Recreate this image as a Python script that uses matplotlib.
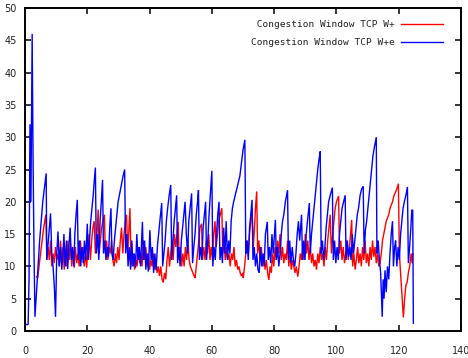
import matplotlib
matplotlib.use("Agg")
import matplotlib.pyplot as plt

# ---------------- data ----------------
blue_t = [
    0, 0.5, 1.0, 1.3, 1.6, 1.9, 2.3, 2.6, 2.9, 3.2,
    3.7, 4.2, 4.7, 5.2, 5.7, 6.2, 6.8, 7.0, 7.5, 8.2,
    8.6, 9.0, 9.4, 9.8, 10.2, 10.6, 11.0, 11.4, 11.8, 12.2,
    12.5, 12.9, 13.3, 13.7, 14.1, 14.5, 14.9, 15.3, 15.7, 16.0,
    16.4, 16.8, 17.1, 17.5, 17.9, 18.3, 18.7, 19.1, 19.5, 20.0,
    20.3, 20.7, 21.1, 21.5, 21.9, 22.2, 22.6, 22.9, 23.3, 23.7,
    24.1, 24.5, 24.9, 25.2, 25.6, 26.0, 26.4, 26.8, 27.2, 27.6,
    27.9, 28.3, 28.7, 29.1, 29.5, 29.9, 30.3, 30.7, 31.1, 31.5,
    32.0, 32.3, 32.7, 33.1, 33.5, 33.9, 34.3, 34.7, 35.1, 35.5,
    35.9, 36.3, 36.7, 37.1, 37.7, 38.0, 38.4, 38.8, 39.2, 39.6,
    40.1, 40.5, 40.9, 41.3, 41.7, 42.1, 42.5, 42.9, 43.3, 43.9,
    44.2, 44.6, 45.0, 45.4, 45.8, 46.3, 46.8, 47.1, 47.5, 47.9,
    48.3, 48.7, 49.0, 49.4, 49.8, 50.2, 50.6, 51.0, 51.4, 51.8,
    52.2, 52.6, 53.0, 53.5, 53.8, 54.2, 54.6, 55.0, 55.4, 55.7,
    56.0, 56.4, 56.8, 57.2, 57.6, 58.0, 58.3, 58.7, 59.1, 59.5,
    60.0, 60.3, 60.7, 61.1, 61.5, 61.9, 62.3, 62.6, 63.0, 63.4,
    63.8, 64.2, 64.6, 65.0, 65.4, 65.8, 66.2, 66.6, 67.0, 67.5,
    68.0, 68.5, 69.0, 69.5, 70.0, 70.6, 70.9, 71.3, 71.7, 72.1,
    72.5, 72.9, 73.2, 73.6, 74.0, 74.4, 74.8, 75.2, 75.6, 76.0,
    76.4, 76.8, 77.2, 77.8, 78.1, 78.5, 78.9, 79.3, 79.7, 80.4,
    80.7, 81.1, 81.5, 81.9, 82.3, 82.7, 83.1, 83.6, 84.0, 84.3,
    84.6, 85.0, 85.4, 85.8, 86.2, 86.6, 87.0, 87.4, 87.8, 88.2,
    88.8, 89.1, 89.5, 89.9, 90.3, 90.7, 91.3, 91.6, 92.0, 92.4,
    92.8, 93.2, 93.6, 94.0, 94.4, 94.8, 95.1, 95.5, 95.9, 96.3,
    96.7, 97.1, 97.5, 98.0, 98.7, 99.0, 99.4, 99.8, 100.2, 100.6,
    101.0, 101.4, 101.8, 102.3, 102.8, 103.1, 103.5, 103.9, 104.3, 104.7,
    105.1, 105.5, 105.9, 106.3, 106.7, 107.1, 107.6, 108.1, 108.6, 108.9,
    109.3, 109.7, 110.1, 110.5, 110.9, 111.3, 111.7, 112.2, 112.8, 113.0,
    113.4, 113.8, 114.2, 114.7, 115.0, 115.3, 115.6, 116.0, 116.4, 116.8,
    117.2, 117.6, 118.0, 118.3, 118.7, 119.0, 119.4, 119.8, 120.2, 120.6,
    121.0, 121.4, 121.8, 122.3, 122.8, 123.1, 123.5, 123.9, 124.2, 124.5,
    124.7,
]
blue_cwnd = [
    1, 1, 1, 8, 32, 20, 46, 26, 12, 2.2,
    6, 10, 14, 17, 20, 22, 24.4, 11, 14, 18.2,
    12, 10, 7, 2.2, 12, 15.4, 10, 13, 9.5, 12,
    15, 10, 14, 9.6, 13, 16, 11, 13, 10, 15,
    18, 20.3, 11, 14, 10, 13, 10.5, 14, 11, 16.6,
    11, 14, 17, 19, 21, 23, 25.3, 12, 15, 11,
    17, 20, 23.4, 12, 14, 11, 13, 11.5, 16, 19,
    12, 11, 14, 16, 18, 20, 21, 22, 23, 24,
    25, 12, 15, 10, 13, 9.5, 14, 10, 12, 9.8,
    15, 11, 13, 10, 16.9, 11, 14, 9.5, 12, 9.2,
    15.6, 11, 13, 9, 12, 9.4, 13, 15, 17, 19.8,
    10, 12, 14, 17, 19, 21, 22.6, 11, 14, 17,
    19, 21, 10.5, 13, 10, 14, 16, 18, 20, 15,
    12, 17, 19, 21.3, 10.5, 13, 15, 18, 20, 21.8,
    11, 13, 11, 16, 18, 20, 11, 14, 18, 21,
    24.8, 10, 13, 11, 15, 18, 20, 11, 13, 10.5,
    16, 12, 17, 11, 14, 12, 17, 19, 20, 21,
    22, 23, 24, 26, 28, 29.6, 12, 14, 11, 16,
    18, 20.3, 11, 13, 10, 12, 9.5, 9, 13, 10,
    12, 10, 15, 16.9, 11, 13, 10.5, 15, 12, 17.2,
    11, 13, 10, 12, 15, 17, 18, 20, 21, 21.8,
    11, 14, 10.5, 13, 11, 10, 12, 15, 17, 14,
    18, 11, 14, 11, 15, 17, 19.8, 12, 15, 17,
    19, 21, 23, 25, 26.5, 27.8, 12, 14, 11, 13,
    16, 18, 20, 21, 22.2, 11, 14, 10.5, 13, 11,
    15, 17, 19, 20, 21, 11, 14, 11.5, 13, 11,
    15, 12, 14, 16, 18, 19, 21, 22, 22.4, 12,
    15.6, 17, 19, 21, 23, 25, 27, 28.5, 30, 12,
    14, 11, 9, 2.2, 8, 5, 9.4, 6, 10, 8,
    12, 15, 17, 10, 13, 14, 10, 13, 11, 15,
    17, 19, 20, 21, 22.3, 10.5, 13, 16, 18.7, 18.7,
    1.2,
]

red_t = [
    3.7, 4.1, 4.5, 5.0, 5.5, 6.0, 6.7, 7.0, 7.4, 7.8,
    8.2, 8.6, 9.0, 9.4, 9.8, 10.2, 10.6, 11.0, 11.4, 11.8,
    12.2, 12.6, 13.0, 13.4, 13.8, 14.2, 14.6, 15.0, 15.4, 15.8,
    16.2, 16.6, 17.0, 17.4, 17.8, 18.2, 18.6, 19.0, 19.4, 19.8,
    20.2, 20.6, 21.0, 21.4, 21.8, 22.2, 22.6, 23.0, 23.5, 23.8,
    24.2, 24.6, 25.0, 25.5, 25.8, 26.2, 26.6, 27.0, 27.4, 27.8,
    28.2, 28.6, 29.0, 29.4, 29.8, 30.2, 30.6, 31.0, 31.4, 31.8,
    32.2, 32.6, 33.0, 33.7, 34.0, 34.4, 34.8, 35.2, 35.6, 36.0,
    36.4, 36.8, 37.2, 37.6, 38.0, 38.4, 38.8, 39.2, 39.6, 40.0,
    40.4, 40.8, 41.2, 41.6, 42.0, 42.4, 42.8, 43.2, 43.6, 44.0,
    44.4, 44.8, 45.2, 45.6, 46.0, 46.4, 46.8, 47.2, 47.6, 48.0,
    48.4, 48.8, 49.2, 49.5, 49.9, 50.3, 50.7, 51.1, 51.5, 51.9,
    52.3, 52.7, 53.1, 53.5, 53.9, 54.3, 54.6, 55.0, 55.4, 55.8,
    56.2, 56.7, 57.0, 57.4, 57.8, 58.2, 58.6, 59.0, 59.4, 59.8,
    60.2, 60.6, 61.0, 61.4, 61.8, 62.2, 62.7, 63.2, 63.5, 63.9,
    64.3, 64.7, 65.1, 65.5, 65.9, 66.3, 66.7, 67.1, 67.5, 67.9,
    68.3, 68.7, 69.1, 69.5, 69.9, 70.1, 70.5, 70.9, 71.3, 71.7,
    72.1, 72.5, 72.9, 73.3, 73.7, 74.0, 74.4, 74.7, 75.1, 75.5,
    75.9, 76.3, 76.7, 77.1, 77.5, 77.9, 78.3, 78.7, 79.1, 79.5,
    79.9, 80.3, 80.7, 81.1, 81.5, 81.9, 82.3, 82.7, 83.1, 83.5,
    83.9, 84.3, 84.7, 85.1, 85.5, 85.9, 86.3, 86.7, 87.1, 87.6,
    88.0, 88.4, 88.8, 89.2, 89.6, 90.0, 90.4, 90.8, 91.2, 91.6,
    92.0, 92.4, 92.8, 93.2, 93.6, 94.0, 94.4, 94.8, 95.2, 95.6,
    96.0, 96.4, 96.8, 97.2, 97.6, 98.0, 98.4, 98.8, 99.2, 99.6,
    100.0, 100.7, 101.0, 101.4, 101.8, 102.2, 102.6, 103.0, 103.4, 103.8,
    104.2, 104.9, 105.2, 105.6, 106.0, 106.4, 106.8, 107.2, 107.6, 108.0,
    108.4, 108.8, 109.2, 109.6, 110.0, 110.4, 110.8, 111.2, 111.6, 112.0,
    112.4, 112.8, 113.2, 113.6, 114.0, 114.4, 114.8, 115.2, 115.6, 116.0,
    116.4, 116.8, 117.2, 117.6, 118.0, 118.5, 119.0, 119.4, 119.9, 120.2,
    120.6, 121.0, 121.5, 121.9, 122.3, 122.7, 123.1, 123.5, 124.0, 124.3,
    124.5,
]
red_cwnd = [
    8.4, 8.2, 10, 12, 14, 16, 18, 11, 13, 11,
    14, 10, 12, 10.5, 13, 11, 12, 10, 14, 11,
    13, 9.5, 12, 10, 14, 11, 13.5, 10, 12, 9.8,
    13, 10.5, 12, 10, 14, 11, 13, 10, 12, 9.8,
    13, 15, 11, 14, 16, 17, 12, 14, 18.8, 12,
    14, 16, 17, 18, 12, 14, 11, 13, 12, 14,
    11, 10, 12, 10.5, 13, 11, 14, 16, 12, 15,
    17, 18, 12, 19, 12, 10, 12, 9.5, 11, 10,
    13, 10.5, 12, 10, 14, 11, 13, 10, 12, 9.5,
    11, 10, 12, 9.5, 11, 9, 10, 8.5, 10, 8,
    7.5, 9, 8, 11, 13, 10, 12, 14, 11, 15,
    13, 15, 16.9, 11, 13, 10, 12, 10, 13, 11,
    14, 11, 10, 9.5, 9, 8.5, 8.2, 10, 12, 14,
    16, 16.6, 11, 13, 11, 14, 12, 15, 11, 13,
    11, 15, 17, 13, 15, 17, 18, 19, 12, 14,
    11, 13, 11, 12, 10, 12, 11, 13, 10, 11,
    9.5, 10, 9, 8.5, 9, 8.2, 10, 12, 14, 12,
    15, 17, 19, 13, 16, 19, 21.6, 12, 14, 11,
    13, 10, 12, 9.5, 11, 9, 7.9, 10, 9, 12,
    10, 13, 11, 14, 12, 15, 11, 13, 10.5, 12,
    11, 14, 10, 12, 9.5, 11, 10, 9, 10, 8.4,
    10, 12, 11, 13, 11, 15, 12, 14, 11, 13,
    10.5, 12, 10, 11, 9.5, 12, 10.5, 13, 11, 12,
    10, 13, 11, 14, 16, 18, 12, 15, 17, 19,
    20, 20.9, 12, 14, 11, 13, 10.5, 12, 14, 11,
    13, 17.2, 10, 12, 9.5, 11, 13, 10.5, 12, 10,
    13, 11, 14, 10.5, 12, 10, 13, 11, 14, 11.5,
    13, 10.5, 12, 10, 10.5, 12, 14, 15, 16, 17,
    17.5, 18, 19, 19.5, 20, 21, 21.5, 22, 22.8, 12,
    9, 5.9, 2.1, 5, 7.1, 7.5, 9, 10, 12, 10.5,
    12,
]

series_labels = [" Congestion Window TCP W+", "Congestion Window TCP W+e"]
x_ticks = [0, 20, 40, 60, 80, 100, 120, 140]
y_ticks = [0, 5, 10, 15, 20, 25, 30, 35, 40, 45, 50]

# ---------------- figure ----------------
W, H = 468, 358
fig = plt.figure(figsize=(W / 100, H / 100), dpi=100)
ax = fig.add_axes([25 / W, 27 / H, 436 / W, 323 / H])

l_red, = ax.plot(red_t, red_cwnd, color="#ff0000", lw=1.0, solid_joinstyle="miter")
l_blue, = ax.plot(blue_t, blue_cwnd, color="#0000ff", lw=1.0, solid_joinstyle="miter")

ax.set_xlim(0, 140)
ax.set_ylim(0, 50)
ax.set_xticks(x_ticks)
ax.set_yticks(y_ticks)

for sp in ax.spines.values():
    sp.set_linewidth(1.4)
    sp.set_color("black")

ax.tick_params(axis="both", which="major", direction="in", length=4.5, width=1.1,
               top=True, right=True, labelsize=7, labelcolor="#222222")
ax.tick_params(axis="x", pad=11)
ax.tick_params(axis="y", pad=6)
for lab in ax.get_xticklabels() + ax.get_yticklabels():
    lab.set_family("DejaVu Sans")

leg = ax.legend([l_red, l_blue], series_labels, loc="upper right",
                bbox_to_anchor=(0.9587, 0.963), frameon=False, markerfirst=False,
                borderaxespad=0, borderpad=0, handlelength=4.4, handletextpad=0.7,
                labelspacing=1.0, prop={"family": "DejaVu Sans Mono", "size": 6.8})
for t in leg.get_texts():
    t.set_color("#222222")

fig.savefig("out.png", dpi=100)
